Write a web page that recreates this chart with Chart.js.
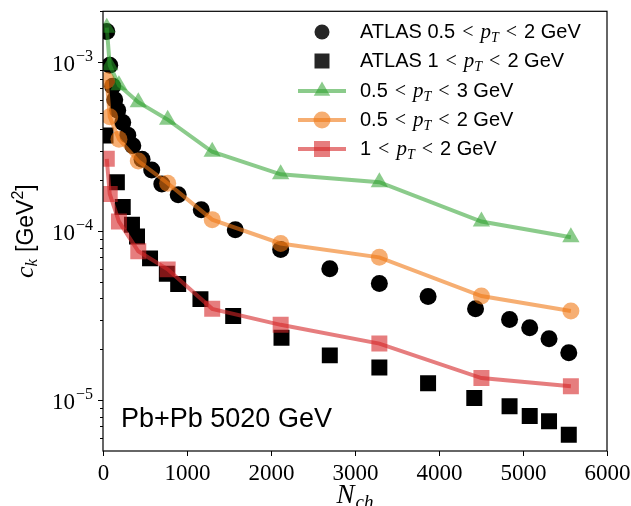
<!DOCTYPE html>
<html lang="en">
<head>
<meta charset="UTF-8" />
<title>c_k vs N_ch</title>
<script src="https://cdn.jsdelivr.net/npm/chart.js"></script>
<style>
  html, body { margin: 0; padding: 0; background: #fff; }
  #wrap { width: 631px; height: 506px; }
</style>
</head>
<body>
<div id="wrap"><canvas id="ckChart" width="631" height="506"></canvas></div>
<script>
// ATLAS points
const atlasCircN = [45, 80, 115, 140, 175, 235, 295, 355, 465, 580, 700, 895, 1170, 1575, 2115, 2700, 3290, 3870, 4435, 4840, 5080, 5310, 5545];
const atlasCircC = [1.52e-3, 9.6e-4, 7.2e-4, 6.0e-4, 5.2e-4, 4.4e-4, 3.7e-4, 3.2e-4, 2.66e-4, 2.3e-4, 1.9e-4, 1.64e-4, 1.34e-4, 1.02e-4, 7.8e-5, 6.0e-5, 4.9e-5, 4.1e-5, 3.47e-5, 3.0e-5, 2.68e-5, 2.31e-5, 1.91e-5];
const atlasSqN = [30, 165, 235, 345, 405, 560, 760, 895, 1160, 1550, 2125, 2700, 3290, 3870, 4420, 4840, 5080, 5310, 5545];
const atlasSqC = [3.68e-4, 1.95e-4, 1.39e-4, 1.09e-4, 9.3e-5, 6.9e-5, 5.6e-5, 4.86e-5, 3.96e-5, 3.15e-5, 2.34e-5, 1.84e-5, 1.56e-5, 1.26e-5, 1.03e-5, 9.2e-6, 8.05e-6, 7.5e-6, 6.24e-6];

// model curves
const modelN = [45, 80, 190, 420, 770, 1300, 2115, 3290, 4505, 5570];
const green05to3 = [1.6e-3, 9.6e-4, 7.3e-4, 5.8e-4, 4.57e-4, 2.95e-4, 2.17e-4, 1.95e-4, 1.14e-4, 9.2e-5];
const orange05to2 = [7.8e-4, 4.75e-4, 3.5e-4, 2.6e-4, 1.92e-4, 1.17e-4, 8.45e-5, 7.0e-5, 4.13e-5, 3.37e-5];
const red1to2 = [2.68e-4, 1.66e-4, 1.14e-4, 7.6e-5, 5.94e-5, 3.47e-5, 2.79e-5, 2.16e-5, 1.35e-5, 1.21e-5];

// axes
const xTicks = [0, 1000, 2000, 3000, 4000, 5000, 6000];
const yMajor = [1e-5, 1e-4, 1e-3];
const yExp = ['5', '4', '3'];
const yMinor = [6e-6, 7e-6, 8e-6, 9e-6, 2e-5, 3e-5, 4e-5, 5e-5, 6e-5, 7e-5, 8e-5, 9e-5,
                2e-4, 3e-4, 4e-4, 5e-4, 6e-4, 7e-4, 8e-4, 9e-4, 2e-3];

const GREEN = 'rgba(44,160,44,0.55)';
const ORANGE = 'rgba(240,120,20,0.6)';
const RED = 'rgba(214,39,40,0.6)';
const SANS = '"Liberation Sans", Arial, sans-serif';
const SERIF = '"Liberation Serif", "Times New Roman", serif';

function pts(xs, ys) { return xs.map((x, i) => ({ x: x, y: ys[i] })); }

// draw a list of text pieces with different fonts one after another
function drawRuns(ctx, runs, x, y, align) {
  let w = 0;
  runs.forEach(r => { ctx.font = r.f; w += ctx.measureText(r.t).width + (r.g || 0); });
  let cx = align === 'center' ? x - w / 2 : (align === 'right' ? x - w : x);
  runs.forEach(r => {
    ctx.font = r.f;
    ctx.fillText(r.t, cx, y + (r.dy || 0));
    cx += ctx.measureText(r.t).width + (r.g || 0);
  });
}

function ptRuns(prefix, suffix) {
  const s = '20px ' + SANS, m = '20px ' + SERIF, mi = 'italic 21px ' + SERIF, sub = 'italic 14px ' + SERIF;
  return [
    { t: prefix, f: s, g: 7 },
    { t: '<', f: m, g: 7 },
    { t: 'p', f: mi },
    { t: 'T', f: sub, dy: 4, g: 7 },
    { t: '<', f: m, g: 7 },
    { t: suffix, f: s }
  ];
}

function marker(ctx, style, x, y, r, color) {
  ctx.save();
  ctx.fillStyle = color;
  ctx.beginPath();
  if (style === 'circle') ctx.arc(x, y, r, 0, Math.PI * 2);
  else if (style === 'rect') ctx.rect(x - r, y - r, 2 * r, 2 * r);
  else {
    ctx.moveTo(x, y - r);
    ctx.lineTo(x + r * 0.866, y + r * 0.5);
    ctx.lineTo(x - r * 0.866, y + r * 0.5);
    ctx.closePath();
  }
  ctx.fill();
  ctx.restore();
}

const decorations = {
  id: 'decorations',
  afterDraw(chart) {
    const ctx = chart.ctx;
    const a = chart.chartArea;
    const xs = chart.scales.x, ys = chart.scales.y;
    ctx.save();
    ctx.strokeStyle = '#000';
    ctx.fillStyle = '#000';
    ctx.lineWidth = 1.2;
    ctx.strokeRect(a.left, a.top, a.right - a.left, a.bottom - a.top);

    // x ticks
    ctx.lineWidth = 1;
    ctx.textBaseline = 'alphabetic';
    ctx.textAlign = 'center';
    ctx.font = '23px ' + SERIF;
    xTicks.forEach(v => {
      const px = Math.round(xs.getPixelForValue(v)) + 0.5;
      ctx.beginPath(); ctx.moveTo(px, a.bottom); ctx.lineTo(px, a.bottom + 5); ctx.stroke();
      ctx.fillText(String(v), px, a.bottom + 29);
    });

    // y ticks
    ctx.textAlign = 'left';
    yMinor.forEach(v => {
      const py = Math.round(ys.getPixelForValue(v)) + 0.5;
      ctx.beginPath(); ctx.moveTo(a.left - 3, py); ctx.lineTo(a.left, py); ctx.stroke();
    });
    yMajor.forEach((v, i) => {
      const py = Math.round(ys.getPixelForValue(v)) + 0.5;
      ctx.beginPath(); ctx.moveTo(a.left - 5, py); ctx.lineTo(a.left, py); ctx.stroke();
      drawRuns(ctx, [
        { t: '10', f: '23px ' + SERIF, g: 1 },
        { t: '\u2212' + yExp[i], f: '16px ' + SERIF, dy: -10 }
      ], a.left - 10, py + 8, 'right');
    });

    // axis titles
    ctx.save();
    ctx.translate(33, (a.top + a.bottom) / 2);
    ctx.rotate(-Math.PI / 2);
    drawRuns(ctx, [
      { t: 'c', f: 'italic 26px ' + SERIF },
      { t: 'k', f: 'italic 17px ' + SERIF, dy: 4, g: 7 },
      { t: '[GeV', f: '23px ' + SANS },
      { t: '2', f: '16px ' + SANS, dy: -10 },
      { t: ']', f: '23px ' + SANS }
    ], 0, 0, 'center');
    ctx.restore();
    drawRuns(ctx, [
      { t: 'N', f: 'italic 27px ' + SERIF, g: 1 },
      { t: 'ch', f: 'italic 19px ' + SERIF, dy: 5 }
    ], (a.left + a.right) / 2, 503, 'center');

    // annotation
    ctx.font = '27px ' + SANS;
    ctx.textAlign = 'left';
    ctx.fillText('Pb+Pb 5020 GeV', 121, 427);

    // legend
    const lx = 322, tx = 360;
    const rows = [
      { y: 38, style: 'circle', r: 7.5, c: 'rgba(0,0,0,0.85)', line: null, runs: ptRuns('ATLAS 0.5', '2 GeV') },
      { y: 67, style: 'rect', r: 7.5, c: 'rgba(0,0,0,0.85)', line: null, runs: ptRuns('ATLAS 1', '2 GeV') },
      { y: 97, style: 'tri', r: 9.5, c: GREEN, line: GREEN, runs: ptRuns('0.5', '3 GeV') },
      { y: 126, style: 'circle', r: 8.5, c: ORANGE, line: ORANGE, runs: ptRuns('0.5', '2 GeV') },
      { y: 155, style: 'rect', r: 8, c: RED, line: RED, runs: ptRuns('1', '2 GeV') }
    ];
    rows.forEach(row => {
      const my = row.y - 6;
      if (row.line) {
        ctx.strokeStyle = row.line; ctx.lineWidth = 4;
        ctx.beginPath(); ctx.moveTo(298, my); ctx.lineTo(346, my); ctx.stroke();
      }
      marker(ctx, row.style, lx, my, row.r, row.c);
      ctx.fillStyle = '#000';
      drawRuns(ctx, row.runs, tx, row.y, 'left');
    });
    ctx.restore();
  }
};

new Chart(document.getElementById('ckChart'), {
  type: 'scatter',
  data: {
    datasets: [
      { label: 'ATLAS 0.5 < pT < 2 GeV', data: pts(atlasCircN, atlasCircC), pointStyle: 'circle',
        pointRadius: 8.5, pointBackgroundColor: '#000', pointBorderWidth: 0, showLine: false, order: 3 },
      { label: 'ATLAS 1 < pT < 2 GeV', data: pts(atlasSqN, atlasSqC), pointStyle: 'rect',
        pointRadius: 11.3, pointBackgroundColor: '#000', pointBorderWidth: 0, showLine: false, order: 3 },
      { label: '0.5 < pT < 3 GeV', data: pts(modelN, green05to3), pointStyle: 'triangle',
        pointRadius: 10, pointBackgroundColor: GREEN, pointBorderWidth: 0,
        showLine: true, borderColor: GREEN, borderWidth: 4, order: 1 },
      { label: '0.5 < pT < 2 GeV', data: pts(modelN, orange05to2), pointStyle: 'circle',
        pointRadius: 8.5, pointBackgroundColor: ORANGE, pointBorderWidth: 0,
        showLine: true, borderColor: ORANGE, borderWidth: 4, order: 1 },
      { label: '1 < pT < 2 GeV', data: pts(modelN, red1to2), pointStyle: 'rect',
        pointRadius: 11.3, pointBackgroundColor: RED, pointBorderWidth: 0,
        showLine: true, borderColor: RED, borderWidth: 4, order: 1 }
    ]
  },
  options: {
    responsive: false,
    animation: false,
    layout: { padding: { left: 103, top: 7, right: 24, bottom: 55 } },
    plugins: { legend: { display: false }, tooltip: { enabled: false } },
    scales: {
      x: { type: 'linear', min: 0, max: 6000, display: false },
      y: { type: 'logarithmic', min: 5e-6, max: 2e-3, display: false }
    }
  },
  plugins: [decorations]
});
</script>
</body>
</html>
